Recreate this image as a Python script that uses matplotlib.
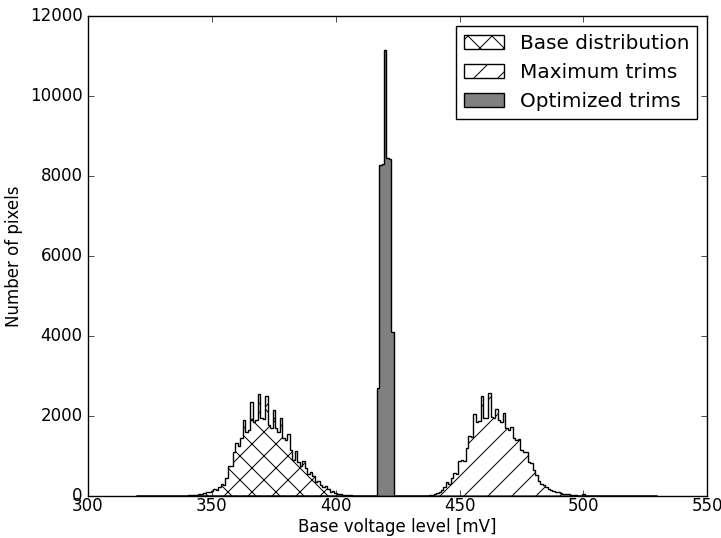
import numpy as np
import matplotlib
matplotlib.use('Agg')
import matplotlib.pyplot as plt

plt.style.use('classic')

# drawn at 72 dpi so the hatch spacing matches; point sizes scaled back up
s = 100.0 / 72.0
for key in ['font.size', 'lines.linewidth', 'patch.linewidth', 'axes.linewidth',
            'hatch.linewidth', 'axes.labelpad',
            'xtick.major.size', 'xtick.minor.size', 'xtick.major.width',
            'xtick.minor.width', 'xtick.major.pad', 'xtick.minor.pad',
            'ytick.major.size', 'ytick.minor.size', 'ytick.major.width',
            'ytick.minor.width', 'ytick.major.pad', 'ytick.minor.pad']:
    plt.rcParams[key] = plt.rcParams[key] * s
plt.rcParams['xtick.major.pad'] = 1 * s
plt.rcParams['hatch.linewidth'] = 1.0

# 1 mV bins, centres 320..529 mV
bin_centres = np.arange(320, 530)
bin_edges = np.arange(319.5, 530.5, 1.0)

# counts (first bin given by *_start)
base_start = 338
base_counts = [5, 8, 10, 15, 20, 25, 35, 45, 55, 70, 90, 110, 130, 170, 150,
               230, 300, 280, 450, 760, 740, 1100, 1320, 1250, 1450, 1900,
               1600, 1650, 2360, 1850, 1900, 2540, 1950, 1920, 2500, 1780,
               1700, 2150, 1700, 1600, 1950, 1450, 1400, 1550, 1150, 900,
               1120, 850, 760, 870, 700, 560, 600, 500, 360, 380, 270, 230,
               240, 180, 110, 120, 70, 60, 50, 35, 25, 20, 15, 10, 8, 6, 4,
               3, 2]

maxtrim_start = 435
maxtrim_counts = [5, 8, 12, 18, 25, 60, 80, 100, 150, 230, 360, 300, 450,
                  580, 560, 870, 900, 880, 1200, 1500, 1480, 2050, 1850, 1870,
                  2500, 1950, 1950, 2580, 1980, 1950, 2170, 1900, 1850, 2080,
                  1700, 1650, 1730, 1450, 1400, 1420, 1150, 1100, 1110, 850,
                  820, 650, 520, 380, 300, 270, 220, 180, 160, 130, 110, 90,
                  75, 60, 50, 40, 30, 20, 15, 10, 5, 60]

opt_start = 417
opt_counts = [2700, 8270, 8300, 11150, 8450, 8420, 4100]


def full(start, vals):
    out = np.zeros(len(bin_centres))
    i = start - bin_centres[0]
    out[i:i + len(vals)] = vals
    return out


fig = plt.figure(figsize=(721 / 72.0, 538 / 72.0), dpi=72)
ax = fig.add_subplot(111)

ax.hist(bin_centres, bins=bin_edges, weights=full(base_start, base_counts),
        histtype='stepfilled', facecolor='white', edgecolor='black',
        hatch='x', label='Base distribution')
ax.hist(bin_centres, bins=bin_edges, weights=full(maxtrim_start, maxtrim_counts),
        histtype='stepfilled', facecolor='white', edgecolor='black',
        hatch='/', label='Maximum trims')
ax.hist(bin_centres, bins=bin_edges, weights=full(opt_start, opt_counts),
        histtype='stepfilled', facecolor='gray', edgecolor='black',
        label='Optimized trims')

ax.set_xlim(300, 550)
ax.set_ylim(0, 12000)
ax.set_xlabel('Base voltage level [mV]', labelpad=2 * s)
ax.set_ylabel('Number of pixels')
ax.legend(loc='upper right')

fig.subplots_adjust(left=0.122, right=0.981, top=0.970, bottom=0.078)
fig.savefig('out.png', dpi=72)
